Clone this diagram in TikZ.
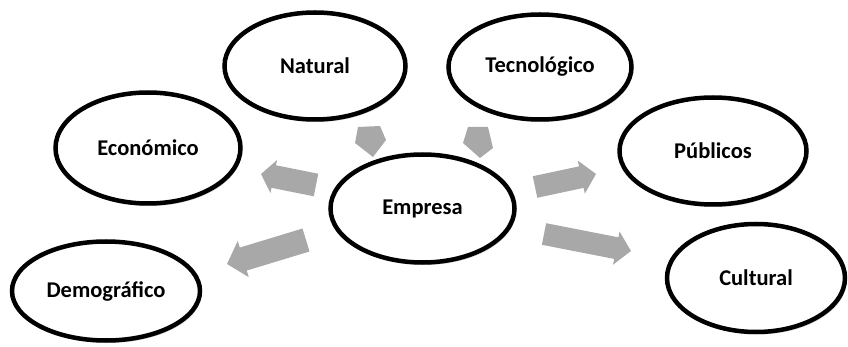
\documentclass[tikz,border=0pt]{standalone}
\usepackage{fontspec}
\setmainfont{Carlito}
\usetikzlibrary{shapes.geometric,arrows.meta,shadows}
\definecolor{arrgray}{RGB}{168,168,168}
\tikzset{
  oval/.style={ellipse, draw=black, fill=white, line width=4.5pt, inner sep=0pt,
    font=\fontsize{22.5}{26}\selectfont\bfseries,
    drop shadow={shadow xshift=1.5pt, shadow yshift=-2.5pt, opacity=0.18, fill=black}},
}
\begin{document}
\begin{tikzpicture}[x=1pt,y=-1pt]
\useasboundingbox (0,0) rectangle (848,347);
% small stubs toward Natural and Tecnológico
\fill[arrgray] (358,127) -- (380,126) -- (386,140) -- (373,157) -- (355,143) -- cycle;
\fill[arrgray] (468,127) -- (488,127) -- (493,148) -- (480,158) -- (463,143) -- cycle;
% arrow end points
\coordinate (ecoT) at (316,185); \coordinate (ecoH) at (261,174);
\coordinate (demT) at (306,240); \coordinate (demH) at (227,264);
\coordinate (pubT) at (535,187); \coordinate (pubH) at (596,174);
\coordinate (culT) at (544,234); \coordinate (culH) at (631,251);
\draw[arrgray, line width=23pt, -{Triangle[length=13pt,width=33pt]}] (ecoT) -- (ecoH);
\draw[arrgray, line width=24pt, -{Triangle[length=17pt,width=37pt]}] (demT) -- (demH);
\draw[arrgray, line width=22pt, -{Triangle[length=15pt,width=33pt]}] (pubT) -- (pubH);
\draw[arrgray, line width=22pt, -{Triangle[length=15pt,width=33pt]}] (culT) -- (culH);
% ellipses
\node[oval, minimum width=181pt, minimum height=107pt] (nat) at (315,66) {Natural};
\node[oval, minimum width=183pt, minimum height=105pt] (tec) at (540,67) {Tecnológico};
\node[oval, minimum width=185pt, minimum height=111pt] (eco) at (148,148) {Económico};
\node[oval, minimum width=187pt, minimum height=107pt] (pub) at (713,151) {Públicos};
\node[oval, minimum width=184pt, minimum height=108pt] (emp) at (422.5,208.5) {Empresa};
\node[oval, minimum width=188pt, minimum height=99pt] (dem) at (106,291) {Demográfico};
\node[oval, minimum width=178pt, minimum height=108pt] (cul) at (756,278) {Cultural};
\end{tikzpicture}
\end{document}
